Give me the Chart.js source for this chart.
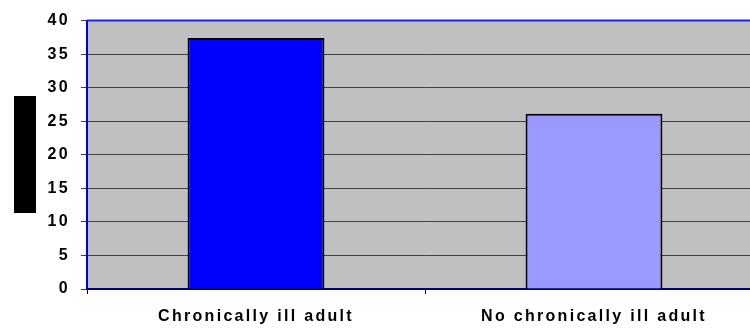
<!DOCTYPE html>
<html>
<head>
<meta charset="utf-8">
<script src="https://cdn.jsdelivr.net/npm/chart.js@4.4.1/dist/chart.umd.min.js"></script>
<style>
  html, body { margin: 0; padding: 0; background: #ffffff; overflow: hidden; }
  #wrap { position: relative; width: 764px; height: 328px; }
</style>
</head>
<body>
<div id="wrap"><canvas id="c" width="764" height="328"></canvas></div>
<script>
// Share of households by presence of a chronically ill adult
const categories = ['Chronically ill adult', 'No chronically ill adult'];
const values = [37.4, 26.1];
const barColors = ['#0000ff', '#9999ff'];
const yTicks = [0, 5, 10, 15, 20, 25, 30, 35, 40];

const SPACING = '2.3px';

// Spaced-out lettering for every canvas text call
const letterSpacingPlugin = {
  id: 'letterSpacing',
  beforeUpdate(chart) { chart.ctx.letterSpacing = SPACING; },
  beforeLayout(chart) { chart.ctx.letterSpacing = SPACING; },
  beforeDraw(chart) { chart.ctx.letterSpacing = SPACING; }
};

// Silver plot background, blue top edge and the black side block
const framePlugin = {
  id: 'frame',
  beforeDraw(chart) {
    const { ctx, chartArea: a } = chart;
    ctx.save();
    ctx.fillStyle = '#c0c0c0';
    ctx.fillRect(a.left, a.top, a.right - a.left, a.bottom - a.top);
    ctx.restore();
  },
  afterDraw(chart) {
    const { ctx, chartArea: a } = chart;
    ctx.save();
    ctx.strokeStyle = '#2020ff';
    ctx.lineWidth = 2;
    ctx.beginPath();
    ctx.moveTo(a.left, a.top);
    ctx.lineTo(a.right, a.top);
    ctx.stroke();
    // axis title block, centred on the plot height
    const h = 117;
    const cy = (a.top + a.bottom) / 2;
    ctx.fillStyle = '#000000';
    ctx.fillRect(14, Math.round(cy - h / 2), 22, h);
    ctx.restore();
  }
};

const tickFont = { family: '"Liberation Sans", Arial, sans-serif', size: 16, weight: 'bold' };

new Chart(document.getElementById('c'), {
  type: 'bar',
  data: {
    labels: categories,
    datasets: [{
      data: values,
      backgroundColor: barColors,
      borderColor: '#000000',
      borderWidth: 2,
      categoryPercentage: 1,
      barPercentage: 0.405
    }]
  },
  options: {
    responsive: false,
    animation: false,
    devicePixelRatio: 1,
    layout: { padding: { top: 20, right: 1, left: 0, bottom: 0 } },
    plugins: {
      legend: { display: false },
      tooltip: { enabled: false }
    },
    scales: {
      x: {
        offset: true,
        grid: {
          display: true,
          offset: true,
          drawOnChartArea: false,
          drawTicks: true,
          tickLength: 5,
          tickColor: '#000000'
        },
        border: { display: true, color: '#000080', width: 2 },
        ticks: { color: '#000000', font: tickFont, padding: 13 },
        afterFit(scale) { scale.height = 39; }
      },
      y: {
        min: 0,
        max: 40,
        afterBuildTicks(scale) { scale.ticks = yTicks.map(v => ({ value: v })); },
        grid: {
          color: '#404040',
          lineWidth: 1,
          drawTicks: true,
          tickLength: 6,
          tickColor: '#404040'
        },
        border: { display: true, color: '#0000cc', width: 2 },
        ticks: { color: '#000000', font: tickFont, padding: 11 },
        afterFit(scale) { scale.width = 87; }
      }
    }
  },
  plugins: [letterSpacingPlugin, framePlugin]
});
</script>
</body>
</html>
